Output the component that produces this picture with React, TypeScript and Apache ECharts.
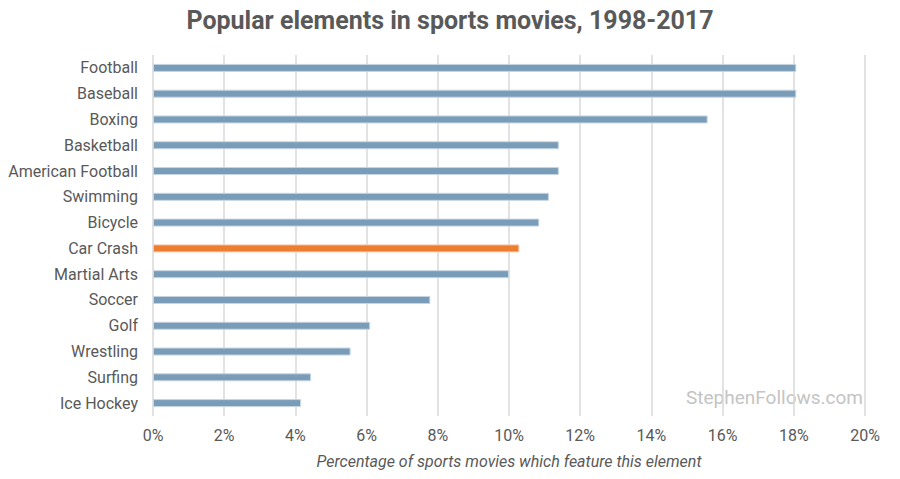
import { useEffect, useRef } from 'react'
import * as echarts from 'echarts'

const categories = [
  'Football',
  'Baseball',
  'Boxing',
  'Basketball',
  'American Football',
  'Swimming',
  'Bicycle',
  'Car Crash',
  'Martial Arts',
  'Soccer',
  'Golf',
  'Wrestling',
  'Surfing',
  'Ice Hockey',
]
const shares = [18.07, 18.07, 15.58, 11.4, 11.4, 11.12, 10.85, 10.29, 10.0, 7.79, 6.1, 5.55, 4.44, 4.16]
const highlight = 'Car Crash'

export default function App() {
  const chartRef = useRef<HTMLDivElement>(null)

  useEffect(() => {
    if (!chartRef.current) return
    const chart = echarts.init(chartRef.current, null, { renderer: 'svg' })

    const font = 'Roboto'
    const textGrey = '#595959'

    chart.setOption({
      animation: false,
      textStyle: { fontFamily: font },
      title: {
        text: 'Popular elements in sports movies, 1998-2017',
        left: 'center',
        top: 3,
        textStyle: { fontFamily: font, fontSize: 25, fontWeight: 'bold', color: textGrey },
      },
      grid: { left: 153, right: 35, top: 55, bottom: 63 },
      xAxis: {
        type: 'value',
        min: 0,
        max: 20,
        interval: 2,
        name: 'Percentage of sports movies which feature this element',
        nameLocation: 'middle',
        nameGap: 37,
        nameTextStyle: { fontFamily: font, fontSize: 16, fontStyle: 'italic', color: textGrey },
        axisLine: { show: false },
        axisTick: { show: false },
        axisLabel: { formatter: '{value}%', fontFamily: font, fontSize: 16, color: textGrey, margin: 11 },
        splitLine: { lineStyle: { color: '#d9d9d9', width: 1.5 } },
      },
      yAxis: {
        type: 'category',
        data: categories,
        inverse: true,
        axisLine: { show: false },
        axisTick: { show: false },
        axisLabel: { fontFamily: font, fontSize: 16, color: textGrey, margin: 15 },
      },
      series: [
        {
          type: 'bar',
          barWidth: 8,
          data: shares.map((v, i) => ({
            value: v,
            itemStyle: {
              color: categories[i] === highlight ? '#ed7d31' : '#799cb8',
              borderColor: categories[i] === highlight ? '#f8c9a8' : '#c6d5e2',
              borderWidth: 1,
            },
          })),
        },
      ],
      graphic: [
        {
          type: 'text',
          right: 37,
          top: 388,
          style: { text: 'StephenFollows.com', fontFamily: font, fontSize: 19, fill: '#c4c4c4' },
        },
      ],
    })

    return () => {
      chart.dispose()
    }
  }, [])

  return <div ref={chartRef} style={{ width: 900, height: 479, margin: -8 }} />
}
